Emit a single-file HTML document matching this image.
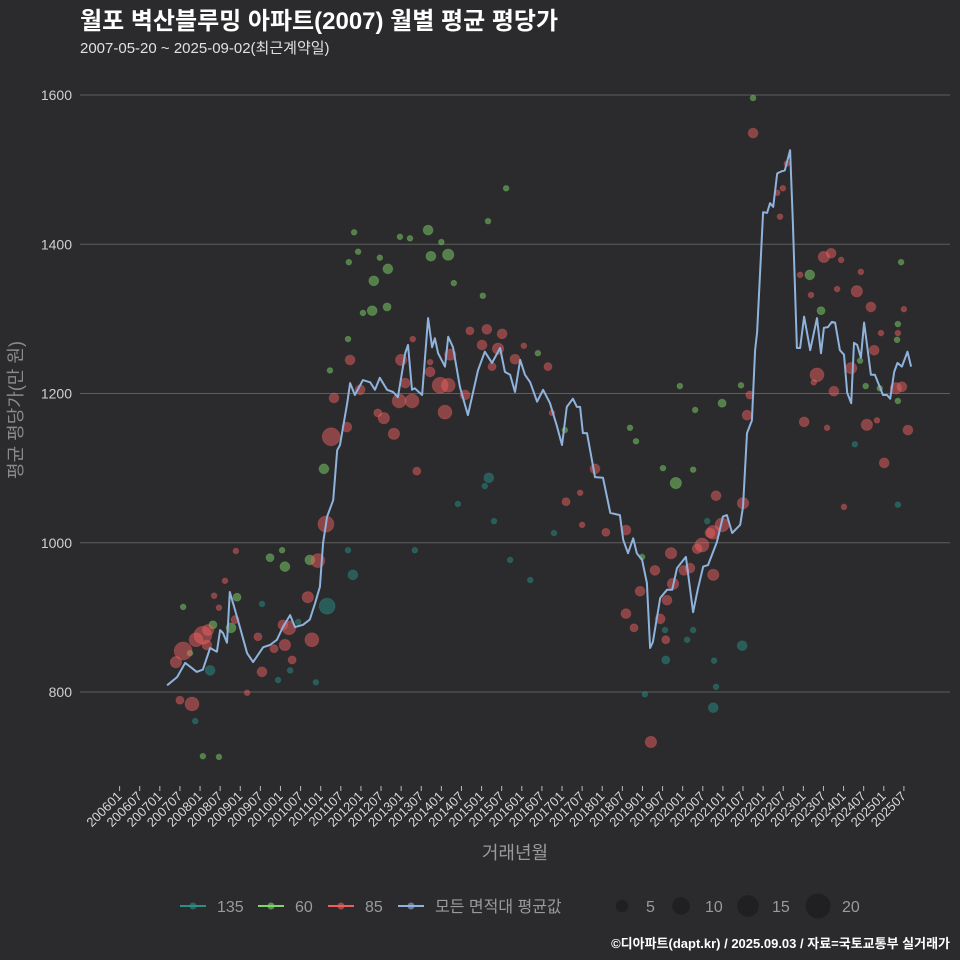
<!DOCTYPE html>
<html><head><meta charset="utf-8">
<style>
html,body{margin:0;padding:0;background:#2b2b2d;}
svg{display:block;font-family:"Liberation Sans","Noto Sans CJK KR",sans-serif;}
</style></head>
<body>
<svg id="chart" width="960" height="960" viewBox="0 0 960 960">
<rect x="0" y="0" width="960" height="960" fill="#2b2b2d"/>
<text x="80" y="29" font-size="24" font-weight="bold" fill="#ffffff">월포 벽산블루밍 아파트(2007) 월별 평균 평당가</text>
<text x="80" y="53" font-size="15" fill="#e0e0e0">2007-05-20 ~ 2025-09-02(최근계약일)</text>
<g id="grid"></g>
<g id="yticks"></g>
<g id="xticks"></g>
<g id="points"></g>
<g id="line"></g>
<text transform="translate(22,410) rotate(-90)" text-anchor="middle" font-size="18" fill="#8a8a8a">평균 평당가(만 원)</text>
<text x="515" y="859" text-anchor="middle" font-size="18" fill="#9a9a9a">거래년월</text>
<g id="legend"></g>
<text x="950" y="948" text-anchor="end" font-size="13" font-weight="bold" fill="#ffffff">©디아파트(dapt.kr) / 2025.09.03 / 자료=국토교통부 실거래가</text>
</svg>
<script>
// ---- data ----
const yTicks = [800, 1000, 1200, 1400, 1600];
const xTickLabels = ["200601","200607","200701","200707","200801","200807","200901","200907","201001","201007","201101","201107","201201","201207","201301","201307","201401","201407","201501","201507","201601","201607","201701","201707","201801","201807","201901","201907","202001","202007","202101","202107","202201","202207","202301","202307","202401","202407","202501","202507"];
const avgT = [2007.18,2007.43,2007.63,2007.75,2007.92,2008.07,2008.25,2008.42,2008.50,2008.57,2008.67,2008.74,2008.87,2008.99,2009.17,2009.32,2009.57,2009.74,2009.91,2010.06,2010.24,2010.36,2010.56,2010.73,2010.86,2010.98,2011.06,2011.16,2011.31,2011.41,2011.48,2011.66,2011.73,2011.85,2012.05,2012.23,2012.35,2012.47,2012.65,2012.80,2012.92,2013.10,2013.17,2013.27,2013.34,2013.52,2013.67,2013.77,2013.84,2013.92,2014.09,2014.17,2014.29,2014.46,2014.66,2014.91,2015.08,2015.26,2015.46,2015.58,2015.71,2015.83,2015.96,2016.08,2016.21,2016.38,2016.53,2016.70,2016.88,2017.00,2017.12,2017.27,2017.37,2017.45,2017.52,2017.62,2017.82,2018.02,2018.20,2018.44,2018.52,2018.64,2018.77,2018.86,2018.99,2019.11,2019.19,2019.26,2019.44,2019.61,2019.74,2019.86,2020.08,2020.26,2020.38,2020.51,2020.63,2020.85,2021.00,2021.10,2021.23,2021.43,2021.50,2021.60,2021.72,2021.80,2021.85,2022.00,2022.10,2022.17,2022.25,2022.35,2022.47,2022.54,2022.67,2022.74,2022.84,2022.92,2023.02,2023.17,2023.34,2023.44,2023.51,2023.61,2023.71,2023.79,2023.91,2024.01,2024.09,2024.19,2024.26,2024.34,2024.43,2024.51,2024.61,2024.68,2024.78,2024.98,2025.08,2025.16,2025.26,2025.34,2025.45,2025.59,2025.68];
const avgV = [809,820,839,834,827,830,859,854,883,879,866,934,910,887,852,840,860,863,870,887,903,887,890,897,919,941,1000,1035,1057,1124,1131,1187,1214,1198,1218,1215,1205,1221,1205,1202,1195,1254,1265,1205,1207,1198,1301,1262,1274,1254,1236,1276,1262,1209,1171,1231,1256,1241,1261,1229,1225,1202,1245,1225,1215,1189,1205,1187,1155,1131,1182,1193,1182,1182,1147,1147,1088,1087,1040,1037,1004,986,1006,986,977,946,859,867,926,937,937,966,981,907,939,968,970,1001,1035,1037,1013,1024,1048,1147,1164,1258,1282,1443,1442,1455,1450,1495,1498,1499,1526,1428,1261,1261,1303,1258,1301,1254,1288,1289,1296,1295,1258,1252,1201,1187,1268,1265,1248,1295,1254,1225,1225,1198,1198,1193,1229,1241,1236,1256,1236];
const redT = [2007.40,2007.58,2007.50,2007.80,2007.90,2008.07,2008.20,2008.17,2008.35,2008.47,2008.62,2008.89,2009.17,2008.87,2009.44,2009.54,2009.84,2010.11,2010.06,2010.21,2010.29,2010.68,2010.93,2010.78,2011.13,2011.26,2011.65,2011.33,2011.73,2011.98,2012.42,2012.57,2012.82,2012.95,2013.00,2013.27,2013.10,2013.39,2013.72,2013.72,2013.29,2014.09,2013.97,2014.17,2014.22,2014.59,2014.71,2015.01,2015.13,2015.26,2015.41,2015.51,2015.83,2016.05,2016.65,2016.75,2017.10,2017.50,2017.45,2017.82,2018.59,2018.59,2018.79,2018.94,2019.31,2019.44,2019.61,2019.76,2019.71,2020.03,2020.18,2020.36,2020.48,2020.68,2020.76,2020.76,2020.83,2020.98,2021.50,2021.60,2021.75,2022.42,2022.35,2022.49,2022.59,2021.67,2023.51,2023.69,2022.92,2023.94,2024.43,2023.84,2024.33,2023.19,2024.68,2025.50,2024.93,2025.35,2024.76,2024.19,2023.34,2023.26,2023.76,2025.30,2025.45,2023.02,2023.59,2024.58,2024.83,2025.60,2025.01,2024.01,2019.21,2019.58,2018.09];
const redV = [840,855,789,784,870,876,883,863,929,913,949,989,799,897,874,827,858,863,890,886,843,927,976,870,1025,1142,1155,1194,1245,1205,1174,1167,1146,1190,1245,1190,1214,1096,1229,1242,1273,1175,1211,1211,1252,1198,1284,1265,1286,1236,1260,1280,1246,1264,1236,1174,1055,1024,1067,1099,1017,905,886,935,963,898,923,945,986,963,966,992,997,1013,1014,957,1063,1024,1053,1171,1549,1437,1469,1475,1508,1198,1383,1388,1359,1379,1363,1340,1337,1332,1316,1313,1281,1281,1258,1234,1225,1215,1203,1207,1209,1162,1154,1158,1164,1151,1107,1048,733,870,1014];
const redN = [4,10,2,6,6,10,4,3,1,1,1,1,1,2,2,3,2,4,3,6,2,4,6,6,8,10,3,3,3,3,2,4,4,6,4,6,3,2,3,1,1,6,8,6,4,3,2,3,3,2,4,3,3,1,2,1,2,1,1,3,3,3,2,3,3,3,3,4,4,3,3,3,6,3,6,4,3,6,4,3,3,1,1,1,1,2,4,3,1,1,1,1,4,1,3,1,1,1,3,4,6,1,3,4,3,3,1,4,1,3,3,1,4,2,2];
const greenT = [2007.58,2007.75,2008.32,2008.77,2008.92,2009.74,2010.04,2010.11,2010.73,2011.08,2011.23,2011.68,2012.05,2012.28,2012.65,2012.32,2012.67,2012.47,2011.70,2011.83,2011.93,2012.97,2013.22,2013.67,2013.74,2014.17,2014.00,2014.31,2015.03,2015.16,2015.61,2016.40,2017.07,2018.69,2018.84,2018.99,2019.83,2019.93,2019.51,2020.26,2020.31,2020.98,2021.45,2021.75,2023.16,2023.44,2024.90,2025.35,2025.35,2025.43,2025.33,2024.41,2024.55,2008.07,2008.47];
const greenV = [914,852,890,886,927,980,990,968,977,1099,1231,1273,1308,1311,1316,1351,1367,1382,1376,1416,1390,1410,1408,1419,1384,1386,1403,1348,1331,1431,1475,1254,1151,1154,1136,981,1080,1210,1100,1098,1178,1187,1211,1596,1359,1311,1207,1293,1190,1376,1272,1244,1210,714,713];
const greenN = [1,1,2,3,2,2,1,3,3,3,1,1,1,3,2,3,3,1,1,1,1,1,1,3,3,4,1,1,1,1,1,1,1,1,1,1,4,1,1,1,1,2,1,1,3,2,1,1,1,1,1,1,1,1,1];
const tealT = [2007.88,2008.25,2009.54,2009.94,2010.24,2010.44,2010.88,2011.16,2011.68,2011.80,2013.34,2014.41,2015.08,2015.18,2015.31,2015.71,2016.21,2016.80,2019.06,2019.56,2019.58,2020.76,2020.11,2020.26,2020.61,2020.78,2021.48,2024.28,2025.35,2020.83];
const tealV = [761,829,918,816,829,894,813,915,990,957,990,1052,1076,1087,1029,977,950,1013,797,883,843,779,870,883,1029,842,862,1132,1051,807];
const tealN = [1,3,1,1,1,1,1,8,1,3,1,1,1,3,1,1,1,1,1,1,2,3,1,1,1,1,3,1,1,1];
const sizeLegend = [5, 10, 15, 20];

// ---- scales ----
const X0 = 119.6, PXY = 40.22;
function xs(t){ return X0 + (t - 2006) * PXY; }
function ys(v){ return 95 + (1600 - v) * (597 / 800); }
function rs(n){ return 2.8 * Math.sqrt(n); }
const NS = "http://www.w3.org/2000/svg";
function mk(tag, attrs, parent){ const e = document.createElementNS(NS, tag); for (const k in attrs) e.setAttribute(k, attrs[k]); parent.appendChild(e); return e; }

const grid = document.getElementById('grid');
const yg = document.getElementById('yticks');
yTicks.forEach(v => {
  const l = mk('line', {x1:80, x2:950, y1:ys(v), y2:ys(v), stroke:'#5e5e5e', 'stroke-width':1}, grid);
  
  
  const t = mk('text', {x:72, y:ys(v)+5, 'text-anchor':'end', 'font-size':14, fill:'#cfcfcf'}, yg);
  t.textContent = v;
  
  
});

const xg = document.getElementById('xticks');
xTickLabels.forEach((lab, i) => {
  const yr = +lab.slice(0,4), mo = +lab.slice(4);
  const x = xs(yr + (mo - 1) / 12);
  const tk = mk('line', {x1:x, x2:x, y1:786, y2:791, stroke:'#bbbbbb', 'stroke-width':1}, xg);
  
  
  const t = mk('text', {transform:'translate(' + (x+3) + ',797) rotate(-45)', 'text-anchor':'end', 'font-size':13, fill:'#d8d8d8'}, xg);
  t.textContent = lab;
  
  
});

const pg = document.getElementById('points');
function drawPts(T, V, N, color, name){
  T.forEach((t, i) => {
    const c = mk('circle', {cx:xs(t), cy:ys(V[i]), r:rs(N[i]), fill:color, 'fill-opacity':0.5, stroke:color, 'stroke-opacity':0.3, 'stroke-width':1}, pg);
    
    
  });
}
drawPts(tealT, tealV, tealN, '#2a8f86', 'area-135');
drawPts(greenT, greenV, greenN, '#7fd46a', 'area-60');
drawPts(redT, redV, redN, '#ec5f5f', 'area-85');

const lg = document.getElementById('line');
const pts = avgT.map((t, i) => xs(t).toFixed(1) + ',' + ys(avgV[i]).toFixed(1)).join(' ');
const pl = mk('polyline', {points:pts, fill:'none', stroke:'#8fb3dc', 'stroke-width':2, 'stroke-linejoin':'round'}, lg);



// legend
const leg = document.getElementById('legend');
const series = [["135","#2a8f86",180],["60","#7fd46a",258],["85","#ec5f5f",328],["모든 면적대 평균값","#8fb3dc",398]];
series.forEach(s => {
  const l = mk('line', {x1:s[2], x2:s[2]+26, y1:906, y2:906, stroke:s[1], 'stroke-width':2}, leg);
  
  
  const c = mk('circle', {cx:s[2]+13, cy:906, r:3.5, fill:s[1], 'fill-opacity':0.6}, leg);
  
  
  const t = mk('text', {x:s[2]+37, y:912, 'font-size':16, fill:'#9a9a9a'}, leg);
  t.textContent = s[0];
  
  
});
const sx = [622, 681, 748, 818];
sizeLegend.forEach((n, i) => {
  const c = mk('circle', {cx:sx[i], cy:906, r:rs(n), fill:'#202022'}, leg);
  
  
  const t = mk('text', {x:sx[i]+24, y:912, 'font-size':16, fill:'#9a9a9a'}, leg);
  t.textContent = n;
  
  
});
</script>
</body></html>
